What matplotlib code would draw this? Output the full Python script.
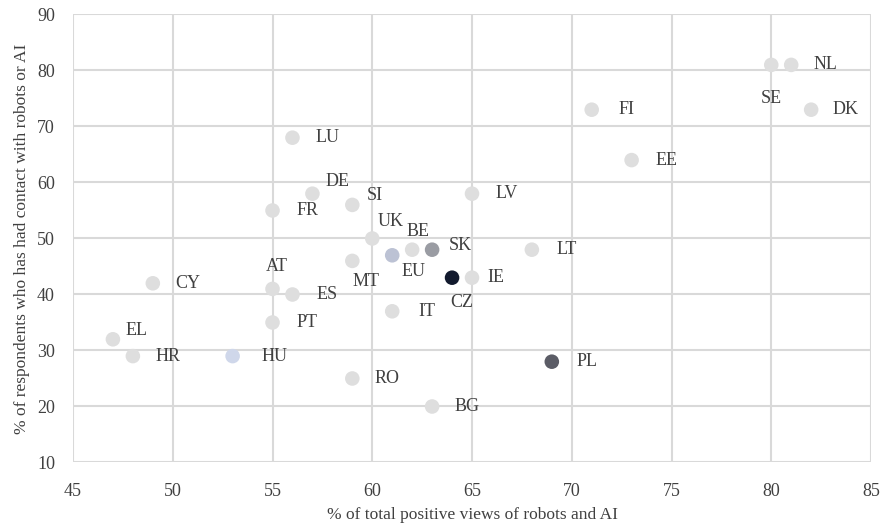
import matplotlib
matplotlib.use('Agg')
import matplotlib.pyplot as plt

# data
countries = ['LU', 'DE', 'SI', 'FR', 'UK', 'BE', 'SK', 'EU', 'MT', 'AT', 'ES', 'CY', 'EL', 'HR',
             'HU', 'PT', 'RO', 'BG', 'IT', 'CZ', 'IE', 'LV', 'LT', 'PL', 'FI', 'EE', 'SE', 'NL', 'DK']
positive_views = [56, 57, 59, 55, 60, 62, 63, 61, 59, 55, 56, 49, 47, 48,
                  53, 55, 59, 63, 61, 64, 65, 65, 68, 69, 71, 73, 80, 81, 82]
had_contact = [68, 58, 56, 55, 50, 48, 48, 47, 46, 41, 40, 42, 32, 29,
               29, 35, 25, 20, 37, 43, 43, 58, 48, 28, 73, 64, 81, 81, 73]

# highlighted points, everything else light grey
highlight = {'EU': '#bcc2d4', 'HU': '#cfd7ea', 'SK': '#9a9ca3', 'CZ': '#121a2e', 'PL': '#5b5c66'}

# label offsets in points (dx, dy)
label_offset = {'DE': (18, 9), 'SI': (16, 7), 'UK': (13, 12), 'BE': (4, 13), 'SK': (20, 3),
                'EU': (15, -12), 'MT': (10, -15), 'AT': (3, 16), 'EL': (17, 6), 'CZ': (7, -18),
                'IE': (17, 0), 'SE': (0, -24), 'HU': (30, 0)}

plt.rcParams['font.family'] = ['Liberation Serif', 'DejaVu Serif']

fig, ax = plt.subplots(figsize=(8.84, 5.27), dpi=100)
fig.subplots_adjust(left=0.0826, right=0.9853, top=0.9725, bottom=0.1224)

colors = [highlight.get(c, '#dedede') for c in countries]
ax.scatter(positive_views, had_contact, s=110, c=colors, zorder=3, linewidths=0)

for c, x, y in zip(countries, positive_views, had_contact):
    dx, dy = label_offset.get(c, (25, 0))
    ax.annotate(c, (x, y), xytext=(dx, dy), textcoords='offset points',
                ha='center', va='center', fontsize=13, color='#404040', zorder=4)

ax.set_xlim(45, 85)
ax.set_ylim(10, 90)
ax.set_xticks(range(45, 86, 5))
ax.set_yticks(range(10, 91, 10))
ax.grid(True, color='#d9d9d9', linewidth=1.5, zorder=0)
ax.set_axisbelow(True)
for s in ax.spines.values():
    s.set_visible(False)
ax.tick_params(axis='x', length=0, labelsize=13, colors='#404040', pad=15)
ax.tick_params(axis='y', length=0, labelsize=13, colors='#404040', pad=13)

ax.set_xlabel('% of total positive views of robots and AI', fontsize=12.5, color='#404040', labelpad=5)
ax.set_ylabel('% of respondents who has had contact with robots or AI', fontsize=12.5, color='#404040', labelpad=5)

fig.savefig('out.png', dpi=100)
